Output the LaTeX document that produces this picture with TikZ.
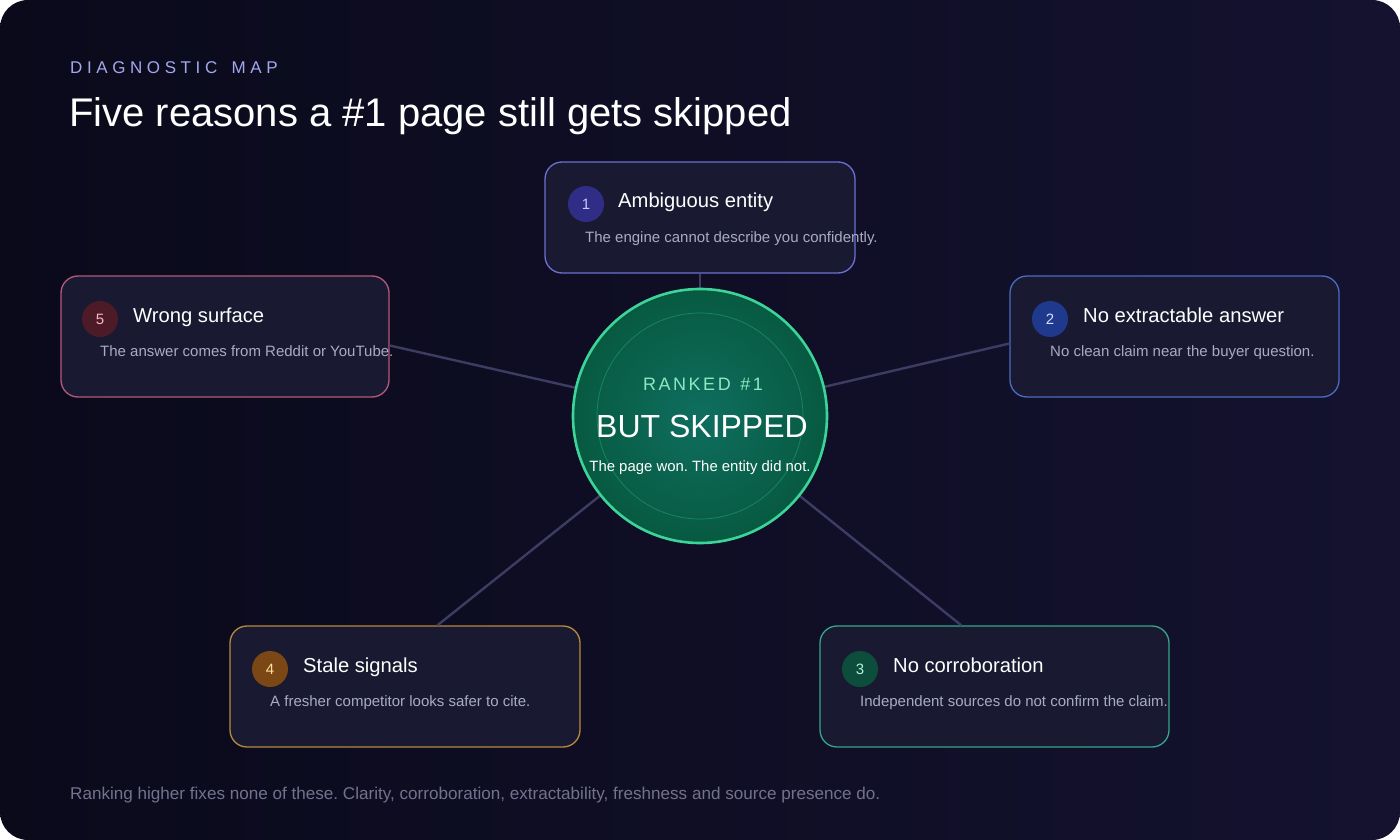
\documentclass[tikz,border=0pt]{standalone}
\usepackage{fontspec}
\setmainfont{Liberation Sans}
\usetikzlibrary{calc}
\frenchspacing
\definecolor{bgA}{HTML}{0A0A1B}
\definecolor{bgB}{HTML}{14122F}
\definecolor{boxfill}{HTML}{191A31}
\definecolor{conncol}{HTML}{3D3C62}
\definecolor{desccol}{HTML}{A9ABC4}
\definecolor{kicker}{HTML}{A3A8EE}
\definecolor{footcol}{HTML}{72728F}
\definecolor{bdA}{HTML}{6C70D2}\definecolor{cfA}{HTML}{2F2D85}\definecolor{nmA}{HTML}{C8C8FF}
\definecolor{bdB}{HTML}{4A6CC2}\definecolor{cfB}{HTML}{1F3A8C}\definecolor{nmB}{HTML}{D4DEFF}
\definecolor{bdC}{HTML}{35A58C}\definecolor{cfC}{HTML}{0D4D3C}\definecolor{nmC}{HTML}{B5F0D5}
\definecolor{bdD}{HTML}{B88A3C}\definecolor{cfD}{HTML}{7B4715}\definecolor{nmD}{HTML}{FFE0A0}
\definecolor{bdE}{HTML}{B5587A}\definecolor{cfE}{HTML}{4D1A28}\definecolor{nmE}{HTML}{F5B8C8}
\definecolor{hubline}{HTML}{3DD49A}
\definecolor{hubin}{HTML}{0F6E60}
\definecolor{hubout}{HTML}{075A40}
\definecolor{rankcol}{HTML}{8FE8C0}
\tikzset{
  card/.style={draw, line width=1.3pt, fill=boxfill, rounded corners=17pt, inner sep=0pt},
  badge/.style={circle, minimum size=36pt, inner sep=0pt, font=\fontsize{15}{17}\selectfont},
  ctitle/.style={anchor=base west, inner sep=0pt, text=white, font=\fontsize{20.2}{24}\selectfont},
  cdesc/.style={anchor=base west, inner sep=0pt, text=desccol, font=\fontsize{15}{18}\selectfont},
  conn/.style={draw=conncol, line width=2.4pt},
}
\begin{document}
\begin{tikzpicture}[x=1pt,y=-1pt]
\fill[white] (0,0) rectangle (1400,840);
\useasboundingbox (0,0) rectangle (1400,840);
\shade[left color=bgA, right color=bgB, rounded corners=28pt] (0,0) rectangle (1400,840);

% header
\node[anchor=base west, inner sep=0pt, text=kicker, font=\fontsize{17}{20}\selectfont\addfontfeatures{LetterSpace=27}] (kick) at (70,74) {DIAGNOSTIC\hspace{5pt} MAP};
\node[anchor=base west, inner sep=0pt, text=white, font=\fontsize{40}{48}\selectfont] (title) at (69,127) {Five reasons a \#1 page still gets skipped};

% cards
\node[card, draw=bdA, minimum width=310pt, minimum height=111pt] (b1) at (700,217.5) {};
\node[card, draw=bdB, minimum width=329pt, minimum height=121pt] (b2) at (1174.5,336.5) {};
\node[card, draw=bdC, minimum width=349pt, minimum height=121pt] (b3) at (994.5,686.5) {};
\node[card, draw=bdD, minimum width=350pt, minimum height=121pt] (b4) at (405,686.5) {};
\node[card, draw=bdE, minimum width=328pt, minimum height=121pt] (b5) at (225,336.5) {};

% connector endpoints
\coordinate (hc) at (700,416);
\coordinate (e1) at (b1.south);
\coordinate (e2) at ($(b2.west)+(0,7)$);
\coordinate (e3) at ($(b3.north west)+(142,0)$);
\coordinate (e4) at ($(b4.north west)+(208,0)$);
\coordinate (e5) at ($(b5.east)+(0,9)$);
\draw[conn] (hc) -- (e1);
\draw[conn] (hc) -- (e2);
\draw[conn] (hc) -- (e3);
\draw[conn] (hc) -- (e4);
\draw[conn] (hc) -- (e5);

% card 1
\node[badge, fill=cfA, text=nmA] (n1) at (586,204) {1};
\node[ctitle] (t1) at (618,207) {Ambiguous entity};
\node[cdesc] (d1) at (585,242) {The engine cannot describe you confidently.};
% card 2
\node[badge, fill=cfB, text=nmB] (n2) at (1050,319) {2};
\node[ctitle] (t2) at (1083,322) {No extractable answer};
\node[cdesc] (d2) at (1050,356) {No clean claim near the buyer question.};
% card 3
\node[badge, fill=cfC, text=nmC] (n3) at (860,669) {3};
\node[ctitle] (t3) at (893,672) {No corroboration};
\node[cdesc] (d3) at (860,706) {Independent sources do not confirm the claim.};
% card 4
\node[badge, fill=cfD, text=nmD] (n4) at (270,669) {4};
\node[ctitle] (t4) at (303,672) {Stale signals};
\node[cdesc] (d4) at (270,706) {A fresher competitor looks safer to cite.};
% card 5
\node[badge, fill=cfE, text=nmE] (n5) at (100,319) {5};
\node[ctitle] (t5) at (133,322) {Wrong surface};
\node[cdesc] (d5) at (100,356) {The answer comes from Reddit or YouTube.};

% hub
\shade[inner color=hubin, outer color=hubout] (hc) circle (127pt);
\node[circle, draw=hubline, line width=2.6pt, minimum size=254pt, inner sep=0pt] (hub) at (hc) {};
\draw[hubline, opacity=0.35, line width=0.7pt] (hc) circle (103pt);
\node[anchor=base, inner sep=0pt, text=rankcol, font=\fontsize{18}{21}\selectfont\addfontfeatures{LetterSpace=14}] (rank) at (703,390) {RANKED\hspace{2pt} \#1};
\node[anchor=base, inner sep=0pt, text=white, font=\fontsize{32}{38}\selectfont] (skip) at (702,437) {BUT SKIPPED};
\node[anchor=base, inner sep=0pt, text=white, font=\fontsize{14.9}{17}\selectfont] (won) at (700,471) {The page won. The entity did not.};

% footer
\node[anchor=base west, inner sep=0pt, text=footcol, font=\fontsize{17.1}{20}\selectfont] (foot) at (70,799) {Ranking higher fixes none of these. Clarity, corroboration, extractability, freshness and source presence do.};
\end{tikzpicture}
\end{document}
